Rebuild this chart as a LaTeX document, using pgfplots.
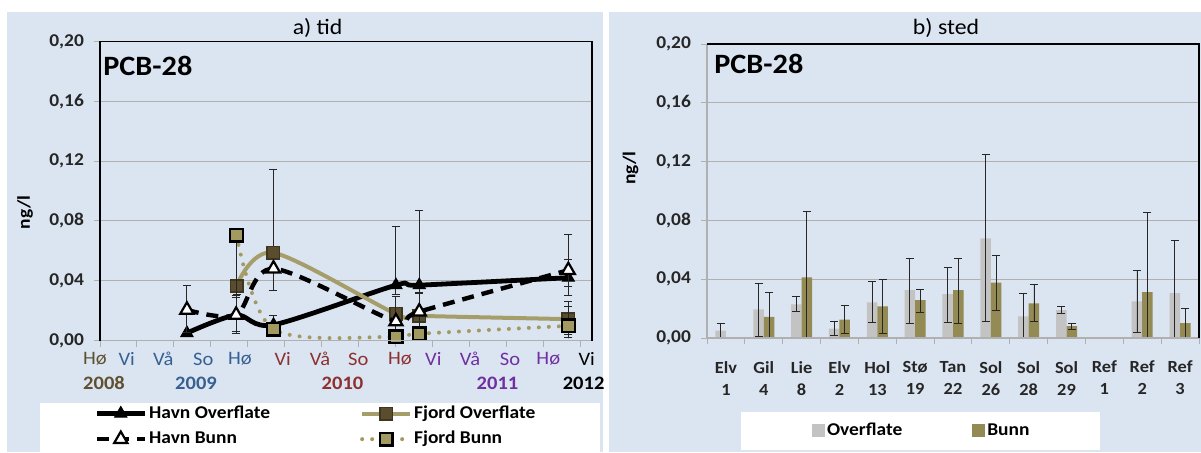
\documentclass[border=0pt]{standalone}
\usepackage{pgfplots}
\pgfplotsset{compat=1.18}
\usepackage{fontspec}
\setmainfont{Carlito}[FakeStretch=1.08]
\definecolor{bgblue}{HTML}{DBE5F1}
\definecolor{khaki}{HTML}{A69E6A}
\definecolor{fjdark}{HTML}{5A4D2E}
\definecolor{fjfill}{HTML}{A39A61}
\definecolor{bunn}{HTML}{948A54}
\definecolor{ovgray}{HTML}{C3C3C3}
\definecolor{gridgray}{HTML}{B0B0B0}
\definecolor{c2008}{HTML}{5F5130}
\definecolor{c2009}{HTML}{376092}
\definecolor{c2010}{HTML}{8C3030}
\definecolor{c2011}{HTML}{7030A0}
\pgfplotsset{
  ebars/.style={error bars/.cd, y dir=both, y explicit,
    error bar style={black!85, line width=0.45pt, solid},
    error mark options={rotate=90, black!85, mark size=2pt, line width=0.45pt, solid}},
}
\begin{document}
\begin{tikzpicture}[x=0.5pt,y=0.5pt]
\useasboundingbox (0,0) rectangle (1201,452);
\fill[bgblue] (7,0) rectangle (603,440);
\fill[bgblue] (609,0) rectangle (1201,440);
\fill[white] (40,0) rectangle (600,49);
\fill[white] (741,2) rectangle (1100,40.3);

% ---------------- left: a) tid ----------------
\begin{axis}[
  at={(50pt,55.75pt)}, anchor=south west, scale only axis,
  width=246pt, height=149.5pt,
  xmin=0, xmax=13.3, ymin=0, ymax=0.2,
  xtick={0,...,13}, xticklabels={},
  ytick={0,0.04,0.08,0.12,0.16,0.2},
  yticklabels={{0,00},{0,04},{0,08},{0,12},{0,16},{0,20}},
  yticklabel style={font=\bfseries\fontsize{9}{10}\selectfont, text=black!85, xshift=-1.5pt},
  ymajorgrids, grid style={gridgray, line width=0.5pt},
  tick align=outside, major tick length=3pt, tick pos=left,
  tick style={gridgray, line width=0.5pt},
  axis line style={draw=none},
  clip mode=individual,
  legend columns=2, legend cell align=left,
  legend style={draw=none, fill=none, at={(axis description cs:-0.0122,-0.287)}, anchor=west,
    inner sep=0pt, font=\bfseries\fontsize{9}{10}\selectfont,
    nodes={inner sep=1pt}, row sep=3pt,
    /tikz/every even column/.append style={column sep=44pt}},
  legend image code/.code={\draw[mark repeat=2,mark phase=2,#1] plot coordinates {(0pt,0pt) (12pt,0pt) (24pt,0pt)};},
]
\addplot[black, line width=2.4pt, smooth, mark=triangle*, mark size=3.5pt,
  mark options={solid, line width=0.5pt}, ebars]
  coordinates {(2.35,0.005) (3.68,0.017) += (0,0.012) -= (0,0.012)
   (4.69,0.0105) += (0,0.006) -= (0,0.006)
   (8.0,0.037) += (0,0.039) -= (0,0.006)
   (8.63,0.037) += (0,0.050) -= (0,0.005)
   (12.66,0.042) += (0,0.029) -= (0,0.012)};
\addlegendentry{Havn Overflate}
\addplot[khaki, line width=2pt, smooth, mark=square*, mark size=3.1pt,
  mark options={solid, fill=fjdark, draw=fjdark!70!black, line width=0.8pt}, ebars]
  coordinates {(3.69,0.0365) (4.69,0.0587) += (0,0.056) -= (0,0.025)
   (8.0,0.0178) (8.63,0.0165) (12.66,0.0143) += (0,0.012) -= (0,0.010)};
\addlegendentry{Fjord Overflate}
\addplot[black, line width=2.2pt, dash pattern=on 6pt off 4pt, smooth, mark=triangle*, mark size=3.8pt,
  mark options={solid, fill=white, draw=black, line width=1.1pt}, ebars]
  coordinates {(2.35,0.0205) += (0,0.016) -= (0,0.015)
   (3.68,0.0171) += (0,0.013) -= (0,0.011)
   (4.69,0.048)
   (8.0,0.0127) += (0,0.017) -= (0,0.012)
   (8.63,0.0193) += (0,0.012) -= (0,0.010)
   (12.66,0.047) += (0,0.007) -= (0,0.011)};
\addlegendentry{Havn Bunn}
\addplot[fjfill, line width=2pt, line cap=round, dash pattern=on 0pt off 5pt, smooth, mark=square*, mark size=3.2pt,
  mark options={solid, fill=fjfill, draw=black, line width=1.2pt}, ebars]
  coordinates {(3.69,0.0705) -= (0,0.040)
   (4.69,0.0075) (8.0,0.0025) (8.63,0.0045)
   (12.66,0.0098) += (0,0.013) -= (0,0.008)};
\addlegendentry{Fjord Bunn}
\draw[gridgray, line width=0.6pt] (rel axis cs:0,0) -- (rel axis cs:1,0);
\draw[black, line width=0.6pt] (rel axis cs:0,0) -- (rel axis cs:0,1) -- (rel axis cs:1,1) -- (rel axis cs:1,0);
\end{axis}

% ---------------- right: b) sted ----------------
\begin{axis}[
  at={(353.5pt,57pt)}, anchor=south west, scale only axis,
  width=246pt, height=147pt,
  xmin=-0.5, xmax=12.5, ymin=0, ymax=0.2,
  xtick={0,...,12},
  xticklabels={{Elv\\1},{Gil\\4},{Lie\\8},{Elv\\2},{Hol\\13},{Stø\\19},{Tan\\22},{Sol\\26},{Sol\\28},{Sol\\29},{Ref\\1},{Ref\\2},{Ref\\3}},
  xticklabel style={align=center, font=\bfseries\fontsize{8.5}{11}\selectfont, text=black!85, yshift=-5pt},
  minor xtick={-0.5,0.5,...,12.5},
  major x tick style={draw=none},
  minor tick length=3pt,
  ytick={0,0.04,0.08,0.12,0.16,0.2},
  yticklabels={{0,00},{0,04},{0,08},{0,12},{0,16},{0,20}},
  yticklabel style={font=\bfseries\fontsize{9}{10}\selectfont, text=black!85, xshift=-1.5pt},
  ymajorgrids, grid style={gridgray, line width=0.5pt},
  tick align=outside, major tick length=3pt, tick pos=left,
  tick style={gridgray, line width=0.5pt},
  axis line style={draw=none},
  clip mode=individual,
  legend columns=2, legend cell align=left,
  legend style={draw=none, fill=none, at={(axis description cs:0.2126,-0.316)}, anchor=west,
    inner sep=0pt, font=\bfseries\fontsize{9}{10}\selectfont,
    nodes={inner sep=1pt},
    /tikz/every even column/.append style={column sep=34pt}},
  legend image code/.code={\fill[#1] (0pt,-3pt) rectangle (6.5pt,3.5pt);},
]
\addplot[ybar, bar width=5.25pt, bar shift=0pt, fill=ovgray, draw=none, ebars]
  coordinates {
   (-0.139,0.005) += (0,0.005) -= (0,0.005)
   (0.861,0.0195) += (0,0.0175) -= (0,0.0185)
   (1.861,0.0228) += (0,0.0052) -= (0,0.0048)
   (2.861,0.0064) += (0,0.0052) -= (0,0.0044)
   (3.861,0.0242) += (0,0.0144) -= (0,0.0137)
   (4.861,0.0325) += (0,0.0215) -= (0,0.0225)
   (5.861,0.0298) += (0,0.0182) -= (0,0.0191)
   (6.861,0.0677) += (0,0.057) -= (0,0.0567)
   (7.861,0.0148) += (0,0.0152) -= (0,0.0148)
   (8.861,0.0189) += (0,0.0027) -= (0,0.0025)
   (10.861,0.0250) += (0,0.0209) -= (0,0.021)
   (11.861,0.0305) += (0,0.0358) -= (0,0.0305)};
\addlegendentry{Overflate}
\addplot[ybar, bar width=5.25pt, bar shift=0pt, fill=bunn, draw=none, ebars]
  coordinates {
   (1.139,0.0144) += (0,0.0166) -= (0,0.0144)
   (2.139,0.0413) += (0,0.0451) -= (0,0.0413)
   (3.139,0.0125) += (0,0.0095) -= (0,0.0095)
   (4.139,0.0215) += (0,0.0185) -= (0,0.0185)
   (5.139,0.0257) += (0,0.0075) -= (0,0.0085)
   (6.139,0.0325) += (0,0.0215) -= (0,0.0225)
   (7.139,0.0377) += (0,0.0182) -= (0,0.0187)
   (8.139,0.0236) += (0,0.0127) -= (0,0.0126)
   (9.139,0.0080) += (0,0.0020) -= (0,0.0020)
   (11.139,0.0312) += (0,0.0542) -= (0,0.0312)
   (12.139,0.0102) += (0,0.0098) -= (0,0.0102)};
\addlegendentry{Bunn}
\draw[gridgray, line width=0.6pt] (rel axis cs:0,1) -- (rel axis cs:0,0) -- (rel axis cs:1,0);
\draw[black, line width=0.6pt] (rel axis cs:0,1) -- (rel axis cs:1,1) -- (rel axis cs:1,0);
\end{axis}

% ---------------- texts ----------------
\node[font=\fontsize{11}{13}\selectfont] at (317.6,424) {a) tid};
\node[font=\fontsize{11}{13}\selectfont] at (946,424) {b) sted};
\node[font=\bfseries\fontsize{14}{16}\selectfont, anchor=base west, inner sep=0pt] at (103,377) {PCB-28};
\node[font=\bfseries\fontsize{14}{16}\selectfont, anchor=base west, inner sep=0pt] at (714,379) {PCB-28};
\node[font=\bfseries\fontsize{9}{10}\selectfont, rotate=90] at (25,239.5) {ng/l};
\node[font=\bfseries\fontsize{9}{10}\selectfont, rotate=90] at (630.7,284) {ng/l};

\begin{scope}[every node/.style={font=\fontsize{9.5}{11}\selectfont, inner sep=0pt}]
\node[text=c2008] at (95,93) {Hø};
\node[text=c2009] at (126.7,93) {Vi};
\node[text=c2009] at (163.3,93) {Vå};
\node[text=c2009] at (203.3,93) {So};
\node[text=c2009] at (240,93) {Hø};
\node[text=c2010] at (282.7,93) {Vi};
\node[text=c2010] at (320,93) {Vå};
\node[text=c2010] at (358.3,93) {So};
\node[text=c2010] at (400,93) {Hø};
\node[text=c2011] at (433.3,93) {Vi};
\node[text=c2011] at (470,93) {Vå};
\node[text=c2011] at (510,93) {So};
\node[text=c2011] at (548.3,93) {Hø};
\node[text=black] at (586.7,93) {Vi};
\end{scope}
\begin{scope}[every node/.style={font=\bfseries\fontsize{9.5}{11}\selectfont, inner sep=0pt}]
\node[text=c2008] at (104,68.7) {2008};
\node[text=c2009] at (196,68.7) {2009};
\node[text=c2010] at (342.5,68.7) {2010};
\node[text=c2011] at (497.5,68.7) {2011};
\node[text=black] at (583.6,68.7) {2012};
\end{scope}
\end{tikzpicture}
\end{document}
